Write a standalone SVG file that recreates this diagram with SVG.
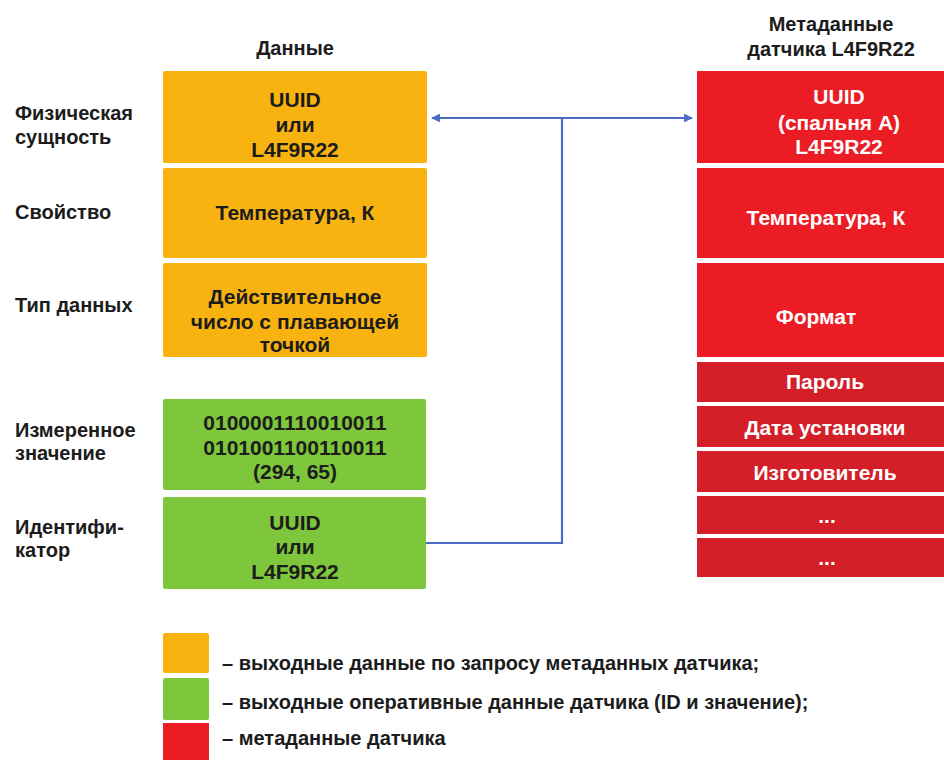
<svg xmlns="http://www.w3.org/2000/svg" width="944" height="760" viewBox="0 0 944 760">
  <defs>
    <style>
      text { font-family: "Liberation Sans", Arial, sans-serif; font-weight: bold; font-size: 20px; }
      .box { font-size: 21px; }
      .dark { fill: #1c1c1c; }
      .light { fill: #ffffff; }
      .c { text-anchor: middle; }
      .orange { fill: #f9b310; }
      .green { fill: #7ec63b; }
      .red { fill: #ec1c24; }
      .red2 { fill: #d41f29; }
      .link { fill: none; stroke: #4a6cc4; stroke-width: 2.2; }
    </style>
    <marker id="tip" viewBox="0 0 10 10" refX="9" refY="5" markerWidth="4" markerHeight="4" orient="auto-start-reverse" markerUnits="strokeWidth">
      <path d="M0,0 L10,5 L0,10 Z" fill="#4a6cc4"/>
    </marker>
  </defs>
  <rect width="944" height="760" fill="#ffffff"/>

  <!-- column headers -->
  <g id="header-data">
    <text class="dark c" x="295" y="55">Данные</text>
  </g>
  <g id="header-meta">
    <text class="dark c" x="831" y="31">Метаданные</text>
    <text class="dark c" x="831" y="56">датчика L4F9R22</text>
  </g>

  <!-- row labels -->
  <g id="row-labels">
    <text class="dark" x="15" y="120">Физическая</text>
    <text class="dark" x="15" y="144">сущность</text>
    <text class="dark" x="15" y="219">Свойство</text>
    <text class="dark" x="15" y="312">Тип данных</text>
    <text class="dark" x="15" y="437">Измеренное</text>
    <text class="dark" x="15" y="460">значение</text>
    <text class="dark" x="15" y="534">Идентифи-</text>
    <text class="dark" x="15" y="557">катор</text>
  </g>

  <!-- data column -->
  <g id="entity" class="box">
    <rect class="orange" x="163" y="71" width="264" height="92" rx="2"/>
    <text class="dark c box" x="295" y="107">UUID</text>
    <text class="dark c box" x="295" y="132">или</text>
    <text class="dark c box" x="295" y="157">L4F9R22</text>
  </g>
  <g id="property">
    <rect class="orange" x="163" y="168" width="264" height="90" rx="2"/>
    <text class="dark c box" x="295" y="220">Температура, К</text>
  </g>
  <g id="datatype">
    <rect class="orange" x="163" y="263" width="264" height="94" rx="2"/>
    <text class="dark c box" x="295" y="304">Действительное</text>
    <text class="dark c box" x="295" y="329">число с плавающей</text>
    <text class="dark c box" x="295" y="352">точкой</text>
  </g>
  <g id="measured">
    <rect class="green" x="163" y="399" width="263" height="91" rx="2"/>
    <text class="dark c box" x="295" y="430">0100001110010011</text>
    <text class="dark c box" x="295" y="455">0101001100110011</text>
    <text class="dark c box" x="295" y="479">(294, 65)</text>
  </g>
  <g id="identifier">
    <rect class="green" x="163" y="497" width="263" height="92" rx="2"/>
    <text class="dark c box" x="295" y="530">UUID</text>
    <text class="dark c box" x="295" y="554">или</text>
    <text class="dark c box" x="295" y="579">L4F9R22</text>
  </g>

  <!-- sensor metadata column -->
  <g id="meta-uuid">
    <rect class="red" x="697" y="71" width="247" height="92"/>
    <text class="light c box" x="839" y="104">UUID</text>
    <text class="light c box" x="839" y="130">(спальня А)</text>
    <text class="light c box" x="839" y="154">L4F9R22</text>
  </g>
  <g id="meta-property">
    <rect class="red" x="697" y="168" width="247" height="90"/>
    <text class="light c box" x="826" y="225">Температура, К</text>
  </g>
  <g id="meta-format">
    <rect class="red" x="697" y="263" width="247" height="94"/>
    <text class="light c box" x="816" y="324">Формат</text>
  </g>
  <g id="meta-password">
    <rect class="red2" x="697" y="362" width="247" height="40"/>
    <text class="light c box" x="825" y="389">Пароль</text>
  </g>
  <g id="meta-install-date">
    <rect class="red2" x="697" y="406" width="247" height="41"/>
    <text class="light c box" x="825" y="435">Дата установки</text>
  </g>
  <g id="meta-manufacturer">
    <rect class="red2" x="697" y="451" width="247" height="41"/>
    <text class="light c box" x="825" y="480">Изготовитель</text>
  </g>
  <g id="meta-more-1">
    <rect class="red2" x="697" y="496" width="247" height="38"/>
    <text class="light c box" x="827" y="523">...</text>
  </g>
  <g id="meta-more-2">
    <rect class="red2" x="697" y="538" width="247" height="39"/>
    <text class="light c box" x="827" y="565">...</text>
  </g>

  <!-- connectors -->
  <g id="connectors">
    <path class="link" d="M432,118 L692,118" marker-start="url(#tip)" marker-end="url(#tip)"/>
    <path class="link" d="M562,118 L562,543 L426,543"/>
  </g>

  <!-- legend -->
  <g id="legend">
    <rect class="orange" x="163" y="633" width="46" height="40" rx="2"/>
    <rect class="green" x="163" y="678" width="46" height="42" rx="2"/>
    <rect class="red" x="163" y="723" width="46" height="37"/>
    <text class="dark" x="222" y="670">– выходные данные по запросу метаданных датчика;</text>
    <text class="dark" x="222" y="709">– выходные оперативные данные датчика (ID и значение);</text>
    <text class="dark" x="222" y="745">– метаданные датчика</text>
  </g>
</svg>
